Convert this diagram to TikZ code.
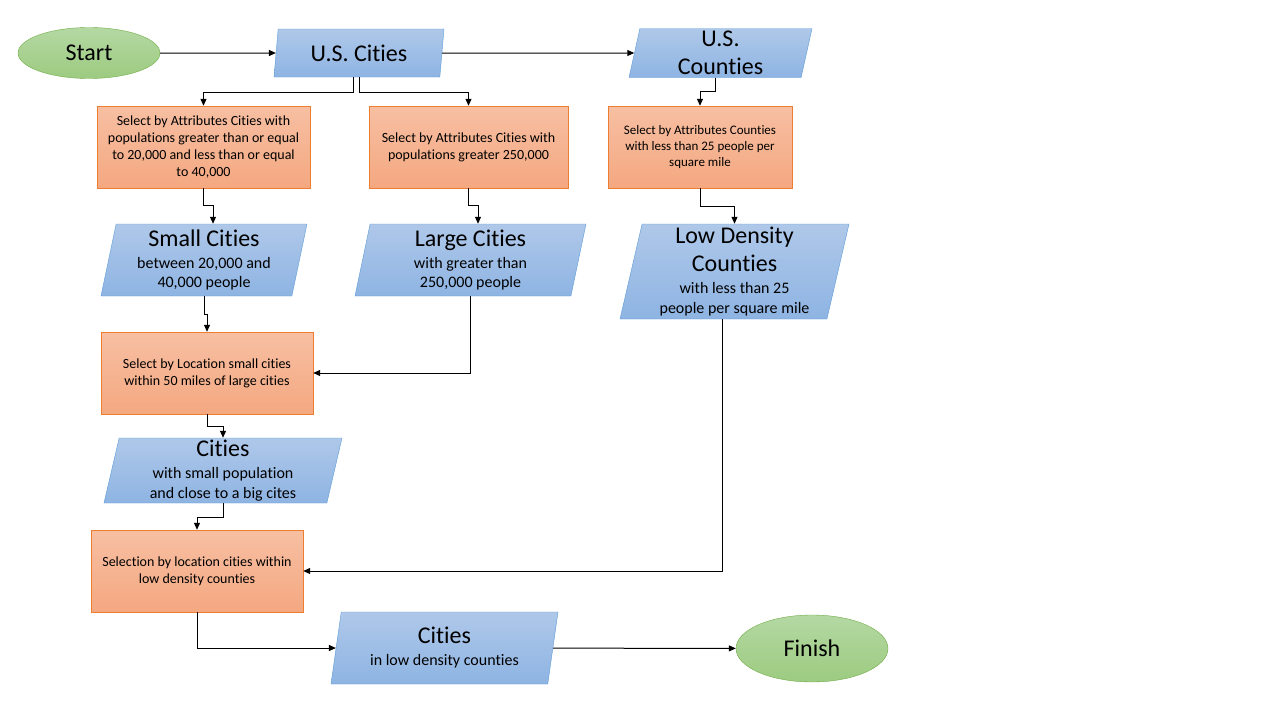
\documentclass[tikz,border=0pt]{standalone}
\usepackage{fontspec}
\setmainfont{Carlito}[Ligatures=NoCommon]
\usetikzlibrary{shapes.geometric,arrows.meta}
\newcommand*\ttlfont{\fontsize{24}{29}\selectfont}
\newcommand*\subfont{\fontsize{16}{19.5}\selectfont\lineskiplimit=-100pt\relax}
\newcommand*\procfont{\fontsize{14}{17}\selectfont}
\definecolor{procline}{HTML}{ED7D31}
\definecolor{proctop}{HTML}{F7BFA2}
\definecolor{procbot}{HTML}{F4A881}
\definecolor{dataline}{HTML}{5B9BD5}
\definecolor{datatop}{HTML}{AFC8E9}
\definecolor{databot}{HTML}{8EB4E3}
\definecolor{termline}{HTML}{70AD47}
\definecolor{termtop}{HTML}{B4D8A3}
\definecolor{termbot}{HTML}{9DCB80}
\tikzset{
    terminal/.style = {ellipse, draw=termline, top color=termtop, bottom color=termbot,
                       inner sep=0pt, font=\ttlfont},
    procbox/.style  = {rectangle, draw=procline, top color=proctop, bottom color=procbot,
                       inner sep=0pt, align=center, font=\procfont, minimum height=82pt},
    datapara/.style = {trapezium, trapezium left angle=76, trapezium right angle=104,
                       trapezium stretches body, draw=dataline, top color=datatop,
                       bottom color=databot, inner sep=0pt, align=center, font=\subfont},
    conn/.style     = {draw=black, line width=1pt, -{Triangle[length=7pt,width=6pt]}},
  }

\begin{document}
\begin{tikzpicture}[x=1pt, y=-1pt]
    \useasboundingbox (0,0) rectangle (1280,720);

    % start and end
    \node[terminal, minimum width=142pt, minimum height=51pt] (start)  at (89,53)    {Start};
    \node[terminal, minimum width=152pt, minimum height=67pt] (finish) at (812,648.5) {Finish};

    % data
    \node[datapara, minimum width=170pt, minimum height=48pt, font=\ttlfont] (uscities) at (359,53) {U.S. Cities};
    \node[datapara, minimum width=183pt, minimum height=49pt, font=\ttlfont] (uscounties) at (720.5,53)
        {U.S.\\[-1pt]Counties};
    \node[datapara, minimum width=206pt, minimum height=72pt] (small) at (204,260)
        {\ttlfont Small Cities\\[2.5pt]between 20,000 and\\40,000 people};
    \node[datapara, minimum width=231pt, minimum height=72pt] (large) at (470.5,260)
        {\ttlfont Large Cities\\[2.5pt]with greater than\\250,000 people};
    \node[datapara, minimum width=229pt, minimum height=95pt] (lowdens) at (734.5,271.5)
        {\ttlfont Low Density\\[8.5pt]\ttlfont Counties\\[2.5pt]with less than 25\\people per square mile};
    \node[datapara, minimum width=238pt, minimum height=65pt] (near) at (223,470.5)
        {\ttlfont Cities\\[2.5pt]with small population\\and close to a big cites};
    \node[datapara, minimum width=227pt, minimum height=72pt] (result) at (444.5,648)
        {\ttlfont Cities\\[2.5pt]in low density counties};

    % processes
    \node[procbox, minimum width=213pt] (selsmall) at (203.5,147)
        {Select by Attributes Cities with\\populations greater than or equal\\to 20,000 and less than or equal\\to 40,000};
    \node[procbox, minimum width=199pt] (sellarge) at (468.5,147)
        {Select by Attributes Cities with\\populations greater 250,000};
    \node[procbox, minimum width=184pt, font=\fontsize{13}{16}\selectfont] (selcounty) at (700,147)
        {Select by Attributes Counties\\with less than 25 people per\\square mile};
    \node[procbox, minimum width=212pt] (selnear) at (207,373)
        {Select by Location small cities\\within 50 miles of large cities};
    \node[procbox, minimum width=212pt] (selwithin) at (197,571)
        {Selection by location cities within\\low density counties};

    % connectors
    \draw[conn] (start) -- (uscities);
    \draw[conn] (uscities) -- (uscounties);
    \draw[conn] ([xshift=-6pt]uscities.south) -- ++(0,15) -| (selsmall.north);
    \draw[conn] (uscities.south) -- ++(0,15) -| (sellarge.north);
    \draw[conn] ([xshift=-5pt]uscounties.south) -- ++(0,14) -| (selcounty.north);
    \draw[conn] (selsmall.south) -- ++(0,17) -| ([xshift=9pt]small.north);
    \draw[conn] (sellarge.south) -- ++(0,17) -| ([xshift=7.5pt]large.north);
    \draw[conn] (selcounty.south) -- ++(0,18) -| (lowdens.north);
    \draw[conn] (small.south) -- ++(0,18) -| (selnear.north);
    \draw[conn] (large.south) |- (selnear.east);
    \draw[conn] (selnear.south) -- ++(0,12) -| (near.north);
    \draw[conn] (near.south) -- ++(0,14) -| (selwithin.north);
    \draw[conn] ([xshift=-12pt]lowdens.south) |- (selwithin.east);
    \draw[conn] (selwithin.south) |- (result.west);
    \draw[conn] (result) -- (finish);
\end{tikzpicture}
\end{document}
